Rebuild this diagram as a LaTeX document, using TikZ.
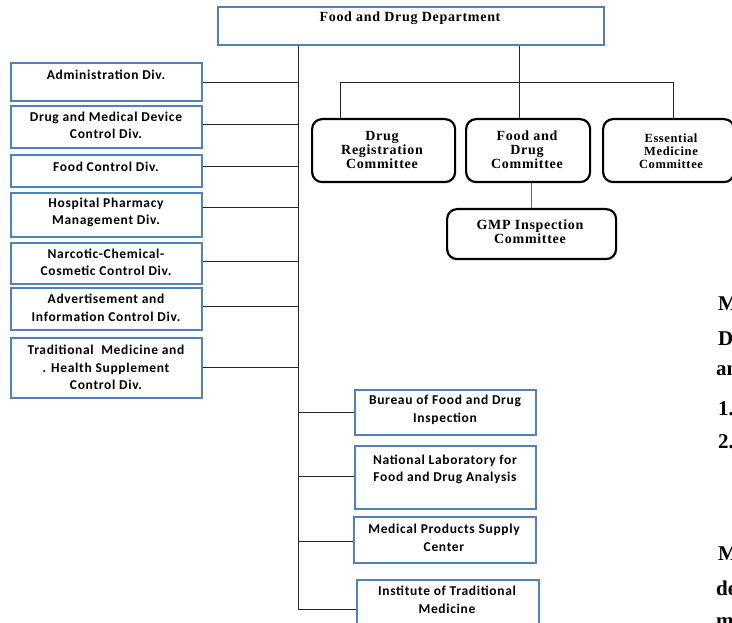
\documentclass[tikz,border=0pt]{standalone}
\usepackage{fontspec}
\setmainfont{Liberation Serif}
\newfontfamily\calfont[LetterSpace=5]{Carlito}
\newfontfamily\wideserif[LetterSpace=5]{Liberation Serif}
\usetikzlibrary{calc}
\definecolor{boxblue}{RGB}{79,129,189}
\tikzset{
  divbox/.style={draw=boxblue, line width=1.8pt, rectangle, inner sep=0pt, anchor=north west},
  commbox/.style={draw=black, line width=2.2pt, rounded corners=10pt, rectangle, inner sep=0pt, anchor=north west},
  divtext/.style={inner sep=0pt, align=center, font=\calfont\bfseries\fontsize{13.5}{17.5}\selectfont},
  commtext/.style={inner sep=0pt, align=center, font=\wideserif\bfseries\fontsize{14}{14}\selectfont},
  smalltext/.style={inner sep=0pt, align=center, font=\wideserif\bfseries\fontsize{12.5}{13}\selectfont},
  bodytext/.style={inner sep=0pt, anchor=base west, font=\bfseries\fontsize{21}{21}\selectfont},
  link/.style={draw=black!85, line width=0.9pt},
}
\begin{document}
\begin{tikzpicture}[x=1pt,y=-1pt]
\useasboundingbox (0,0) rectangle (732,623);
\clip (0,0) rectangle (732,623);

% department header
\node[divbox, minimum width=386, minimum height=38] (dept) at (217,6) {};
\node[commtext] (dept-t) at (410,18) {Food and Drug Department};

% divisions on the left
\node[divbox, minimum width=191, minimum height=38] (adm)  at (10,62)  {};
\node[divbox, minimum width=191, minimum height=42] (dmd)  at (10,105) {};
\node[divbox, minimum width=191, minimum height=32] (food) at (10,154) {};
\node[divbox, minimum width=191, minimum height=44] (hp)   at (10,192) {};
\node[divbox, minimum width=191, minimum height=41] (ncc)  at (10,242) {};
\node[divbox, minimum width=191, minimum height=42] (aic)  at (10,287) {};
\node[divbox, minimum width=191, minimum height=60] (tm)   at (10,337) {};

\node[divtext] (adm-t)  at (106,75)    {Administration Div.};
\node[divtext] (dmd-t)  at (106,125.5) {Drug and Medical Device\\Control Div.};
\node[divtext] (food-t) at (106,167)   {Food Control Div.};
\node[divtext] (hp-t)   at (106,212.5) {Hospital Pharmacy\\Management Div.};
\node[divtext] (ncc-t)  at (106,262.5) {Narcotic-Chemical-\\Cosmetic Control Div.};
\node[divtext] (aic-t)  at (106,308)   {Advertisement and\\Information Control Div.};
\node[divtext] (tm-t)   at (106,367.5) {Traditional~ Medicine and\\. Health Supplement\\Control Div.};

% centres on the right
\node[divbox, minimum width=181, minimum height=45] (bfi)  at (354,389) {};
\node[divbox, minimum width=181, minimum height=63] (nlab) at (354,445) {};
\node[divbox, minimum width=182, minimum height=46] (mps)  at (353,516) {};
\node[divbox, minimum width=182, minimum height=70] (itm)  at (356,579) {};

\node[divtext] (bfi-t)  at (445,410)   {Bureau of Food and Drug\\Inspection};
\node[divtext] (nlab-t) at (445,469.5) {National Laboratory for\\Food and Drug Analysis};
\node[divtext] (mps-t)  at (444,538)   {Medical Products Supply\\Center};
\node[divtext] (itm-t)  at (447,600)   {Institute of Traditional\\Medicine};

% committees
\node[commbox, minimum width=143, minimum height=63] (drc) at (311,118) {};
\node[commbox, minimum width=124, minimum height=63] (fdc) at (465,118) {};
\node[commbox, minimum width=131, minimum height=63] (emc) at (602,118) {};
\node[commbox, minimum width=169, minimum height=50] (gmp) at (446,208) {};

\node[commtext]  (drc-t) at (382,150) {Drug\\Registration\\Committee};
\node[commtext]  (fdc-t) at (527,150) {Food and\\Drug\\Committee};
\node[smalltext] (emc-t) at (671,151) {Essential\\Medicine\\Committee};
\node[commtext]  (gmp-t) at (530,232) {GMP Inspection\\Committee};

% main trunk and its junctions
\coordinate (trunk-end) at (298,609);
\coordinate (jadm)  at (298,82);
\coordinate (jdmd)  at (298,124);
\coordinate (jfood) at (298,166);
\coordinate (jhp)   at (298,207);
\coordinate (jncc)  at (298,261);
\coordinate (jaic)  at (298,306);
\coordinate (jtm)   at (298,367);
\coordinate (jbfi)  at (298,412);
\coordinate (jnlab) at (298,476);
\coordinate (jmps)  at (298,541);

\draw[link] (dept.south -| trunk-end) -- (trunk-end);
\foreach \n in {adm,dmd,food,hp,ncc,aic,tm}
  \draw[link] (\n.east |- j\n) -- (j\n);
\foreach \n in {bfi,nlab,mps}
  \draw[link] (j\n) -- (\n.west |- j\n);
\draw[link] (trunk-end) -- (itm.west |- trunk-end);

% committee bus
\coordinate (bus)  at (519,82);
\coordinate (busL) at (340,82);
\coordinate (busR) at (673,82);
\coordinate (gmpx) at (531,0);
\draw[link] (dept.south -| bus) -- (bus);
\draw[link] (busL) -- (busR);
\draw[link] (busL) -- (drc.north -| busL);
\draw[link] (bus)  -- (fdc.north -| bus);
\draw[link] (busR) -- (emc.north -| busR);
\draw[link, draw=black!60] (fdc.south -| gmpx) -- (gmp.north -| gmpx);

% running text beside the chart
\node[bodytext] (b1) at (718,310) {M};
\node[bodytext] (b2) at (718,345) {D};
\node[bodytext] (b3) at (716,375) {an};
\node[bodytext] (b4) at (718,415) {1.};
\node[bodytext] (b5) at (718,448) {2.};
\node[bodytext] (b6) at (718,560) {M};
\node[bodytext] (b7) at (716,595) {de};
\node[bodytext] (b8) at (716,627) {m};
\end{tikzpicture}
\end{document}
